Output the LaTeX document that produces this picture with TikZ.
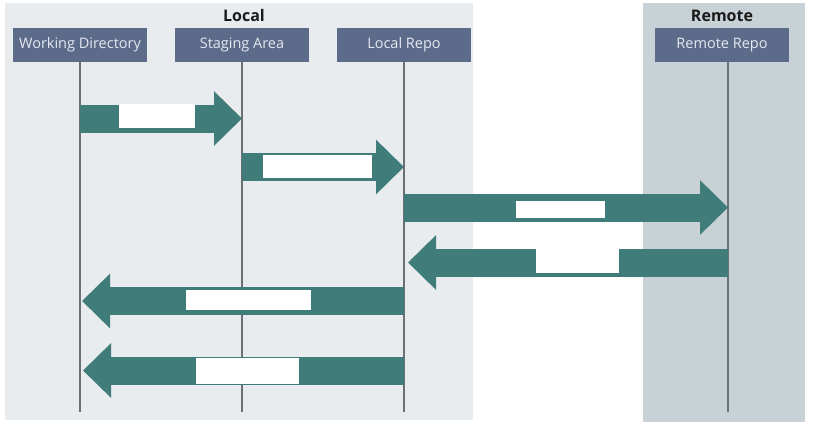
\documentclass[tikz,border=0pt]{standalone}
\usepackage{fontspec}
\setmainfont{Open Sans}
\usetikzlibrary{arrows.meta}
\definecolor{localbg}{HTML}{E9ECEE}
\definecolor{remotebg}{HTML}{C7D1D6}
\definecolor{hdrfill}{HTML}{5D6B8B}
\definecolor{hdrtext}{HTML}{E4E8EF}
\definecolor{teal}{HTML}{407C79}
\definecolor{lifeline}{HTML}{6B7075}
\definecolor{titletext}{HTML}{1A1A1A}
\begin{document}
\begin{tikzpicture}[x=1pt,y=-1pt,
  hdr/.style={fill=hdrfill, text=hdrtext, minimum width=134pt, minimum height=34pt, inner sep=0pt, font=\fontsize{14.5}{16}\selectfont},
  titlestyle/.style={text=titletext, inner sep=0pt, font=\fontsize{16}{18}\selectfont\bfseries},
  life/.style={draw=lifeline, line width=2.2pt},
  bigarrow/.style={draw=teal, line width=28pt, -{Triangle[width=53pt,length=28pt]}},
  lbl/.style={fill=white, inner sep=0pt}]
\useasboundingbox (0,0) rectangle (815,426);
\fill[white] (0,0) rectangle (815,426);
\fill[localbg] (5,3) rectangle (473,420);
\fill[remotebg] (643,3) rectangle (805,422);
% titles
\node[titlestyle] (Ltitle) at (244,15.5) {Local};
\node[titlestyle] (Rtitle) at (722,15.5) {Remote};
% headers
\node[hdr] (WD) at (80,45) {Working Directory};
\node[hdr] (SA) at (242,45) {Staging Area};
\node[hdr] (LR) at (404,45) {Local Repo};
\node[hdr] (RR) at (722,45) {Remote Repo};
% lifeline ends
\coordinate (WDe) at (80,412);
\coordinate (SAe) at (242,412);
\coordinate (LRe) at (404,412);
\coordinate (RRs) at (728,62);
\coordinate (RRe) at (728,412);
\draw[life] (WD.south) -- (WDe);
\draw[life] (SA.south) -- (SAe);
\draw[life] (LR.south) -- (LRe);
\draw[life] (RRs) -- (RRe);
% arrow end points
\coordinate (a1s) at (80,118.5);  \coordinate (a1e) at (242,118.5);
\coordinate (a2s) at (242,167);   \coordinate (a2e) at (404,167);
\coordinate (a3s) at (404,207.5); \coordinate (a3e) at (728,207.5);
\coordinate (a4s) at (728,262.5); \coordinate (a4e) at (408,262.5);
\coordinate (a5s) at (404,301);   \coordinate (a5e) at (82,301);
\coordinate (a6s) at (404,370.5); \coordinate (a6e) at (83,370.5);
\draw[bigarrow] (a1s) -- (a1e);
\draw[bigarrow] (a2s) -- (a2e);
\draw[bigarrow] (a3s) -- (a3e);
\draw[bigarrow] (a4s) -- (a4e);
\draw[bigarrow] (a5s) -- (a5e);
\draw[bigarrow] (a6s) -- (a6e);
% blank label boxes
\node[lbl, minimum width=76pt, minimum height=24pt] (l1) at (157,116) {};
\node[lbl, minimum width=109pt, minimum height=23pt] (l2) at (317.5,166.5) {};
\node[lbl, minimum width=89pt, minimum height=17pt] (l3) at (560.5,209.5) {};
\node[lbl, minimum width=83pt, minimum height=24pt] (l4) at (577.5,261) {};
\node[lbl, minimum width=125pt, minimum height=20pt] (l5) at (248.5,300) {};
\node[lbl, minimum width=103pt, minimum height=26pt] (l6) at (247.5,371) {};
\end{tikzpicture}
\end{document}
